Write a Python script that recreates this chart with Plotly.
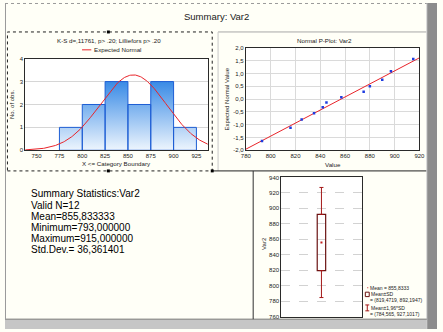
import numpy as np
import plotly.graph_objects as go

W, H = 443, 332

# Raw observations of Var2
var2_values = [793, 816, 825, 835, 842, 845, 857, 875, 880, 890, 897, 915]
# Expected normal scores for the sorted observations (normal probability plot)
expected_normal = [-1.64, -1.12, -0.80, -0.55, -0.32, -0.13, 0.07, 0.29, 0.50, 0.75, 1.09, 1.57]

# Histogram bins (upper category boundaries) and counts
bin_edges = [775, 800, 825, 850, 875, 900, 925]
bin_counts = [1, 2, 3, 2, 3, 1]

hist_ticks = [750, 775, 800, 825, 850, 875, 900, 925]
hist_yticks = [0, 1, 2, 3, 4]
pplot_xticks = [780, 800, 820, 840, 860, 880, 900, 920]
pplot_yticks = [-2.0, -1.5, -1.0, -0.5, 0.0, 0.5, 1.0, 1.5, 2.0]
box_yticks = [760, 780, 800, 820, 840, 860, 880, 900, 920, 940]

ks_caption = "K-S d=,11761, p> .20; Lilliefors p> .20"

vals = np.array(var2_values, dtype=float)
n = len(vals)
mean = vals.mean()
sd = vals.std(ddof=1)


def comma(v, digits):
    return f"{v:.{digits}f}".replace(".", ",")


def comma_g(v):
    s = f"{v:.4f}".rstrip("0").rstrip(".")
    return s.replace(".", ",")


def fx(x):
    return x / W


def fy(y):
    return 1 - y / H


FONT = "Liberation Sans, Arial, sans-serif"
fig = go.Figure()

# ---------- histogram with expected normal curve ----------
bx, by = [], []
for lo, hi, c in zip(bin_edges[:-1], bin_edges[1:], bin_counts):
    bx += [lo, lo, hi, hi, lo, None]
    by += [0, c, c, 0, 0, None]
fig.add_trace(go.Scatter(
    x=bx, y=by, mode="lines", fill="toself",
    line=dict(color="#1E5ED4", width=1),
    fillgradient=dict(type="vertical", start=0, stop=max(bin_counts),
                      colorscale=[[0, "#F2F8FE"], [1, "#3A8BE6"]]),
    xaxis="x", yaxis="y", showlegend=False, hoverinfo="skip"))

bw = bin_edges[1] - bin_edges[0]
xs = np.linspace(737.5, 937.5, 300)
ys = n * bw * np.exp(-0.5 * ((xs - mean) / sd) ** 2) / (sd * np.sqrt(2 * np.pi))
fig.add_trace(go.Scatter(x=xs, y=ys, mode="lines", line=dict(color="#E8242A", width=1),
                         xaxis="x", yaxis="y", showlegend=False, hoverinfo="skip"))

# ---------- normal probability plot ----------
slope, intercept = np.polyfit(vals, np.array(expected_normal), 1)
lx = np.array([780, 920], dtype=float)
fig.add_trace(go.Scatter(x=lx, y=slope * lx + intercept, mode="lines",
                         line=dict(color="#E8242A", width=1),
                         xaxis="x2", yaxis="y2", showlegend=False, hoverinfo="skip"))
fig.add_trace(go.Scatter(x=var2_values, y=expected_normal, mode="markers",
                         marker=dict(symbol="square", size=2.5, color="#1E3CE0"),
                         xaxis="x2", yaxis="y2", showlegend=False, hoverinfo="skip"))

# ---------- box plot: mean, mean +/- SD, mean +/- 1.96 SD ----------
lo_sd, hi_sd = mean - sd, mean + sd
lo_w, hi_w = mean - 1.96 * sd, mean + 1.96 * sd
fig.add_trace(go.Bar(x=[0], y=[hi_sd - lo_sd], base=[lo_sd], width=0.105,
                     marker=dict(color="rgba(0,0,0,0)", line=dict(color="#6A1212", width=1.2)),
                     xaxis="x3", yaxis="y3", showlegend=False, hoverinfo="skip"))
fig.add_trace(go.Scatter(x=[0, 0], y=[hi_sd, lo_sd], mode="markers",
                         marker=dict(size=1, opacity=0),
                         error_y=dict(type="data", symmetric=False,
                                      array=[hi_w - hi_sd, 0], arrayminus=[0, lo_sd - lo_w],
                                      color="#A31818", thickness=1, width=2),
                         xaxis="x3", yaxis="y3", showlegend=False, hoverinfo="skip"))
fig.add_trace(go.Scatter(x=[0], y=[mean], mode="markers",
                         marker=dict(symbol="square", size=2, color="#C42020"),
                         xaxis="x3", yaxis="y3", showlegend=False, hoverinfo="skip"))

tickfont = dict(family=FONT, size=6, color="#222222")
axis_common = dict(showline=True, mirror=True, linecolor="#2A2A2A", linewidth=1,
                   ticks="", zeroline=False, tickfont=tickfont, fixedrange=True)

fig.update_layout(
    width=W, height=H, margin=dict(l=0, r=0, t=0, b=0),
    paper_bgcolor="#FFFFF7", plot_bgcolor="#FFFFFF",
    font=dict(family=FONT, size=6, color="#1A1A1A"),
    barmode="overlay",
    xaxis=dict(domain=[fx(20.7), fx(208)], range=[737.5, 937.5], tickvals=hist_ticks,
               showgrid=False, anchor="y", **axis_common),
    yaxis=dict(domain=[fy(150), fy(56.7)], range=[0, 4], tickvals=hist_yticks,
               showgrid=True, gridcolor="#D6D6D6", gridwidth=1, anchor="x", **axis_common),
    xaxis2=dict(domain=[fx(247), fx(425)], range=[780, 920], tickvals=pplot_xticks,
                showgrid=True, gridcolor="#DADADA", anchor="y2", **axis_common),
    yaxis2=dict(domain=[fy(150), fy(45.7)], range=[-2, 2], tickvals=pplot_yticks,
                ticktext=[comma(v, 1) for v in pplot_yticks],
                showgrid=True, gridcolor="#DADADA", anchor="x2", **axis_common),
    xaxis3=dict(domain=[fx(283.3), fx(365.7)], range=[-0.5, 0.5], showticklabels=False,
                showgrid=False, anchor="y3", **axis_common),
    yaxis3=dict(domain=[fy(319.3), fy(177.7)], range=[760, 940], tickvals=box_yticks,
                showgrid=True, gridcolor="#D2D2D2", griddash="dash", anchor="x3", **axis_common),
)

ann = []


def text(x, y, s, size=6, xanchor="center", angle=0, color="#1A1A1A"):
    ann.append(dict(x=fx(x), y=fy(y), xref="paper", yref="paper", text=s, showarrow=False,
                    xanchor=xanchor, yanchor="middle", textangle=angle, borderpad=0,
                    font=dict(family=FONT, size=size, color=color)))


text(217, 13.5, "Summary: Var2", size=9.5)
text(107, 37.7, ks_caption, size=6.2)
text(90.5, 47.7, "Expected Normal", size=6.2, xanchor="left")
text(7, 103, "No. of obs.", size=6, angle=-90)
text(114, 163, "X &lt;= Category Boundary", size=6.2)
text(328, 37.7, "Normal P-Plot: Var2", size=6.2)
text(336, 164, "Value", size=6.2)
text(228, 98, "Expected Normal Value", size=6, angle=-90)
text(265, 245, "Var2", size=6, angle=-90)

stats_lines = [
    "Summary Statistics:Var2",
    f"Valid N={n}",
    f"Mean={comma(mean, 6)}",
    f"Minimum={comma(vals.min(), 6)}",
    f"Maximum={comma(vals.max(), 6)}",
    f"Std.Dev.= {comma(sd, 6)}",
]
for i, s in enumerate(stats_lines):
    text(25.5, 194.5 + i * 11.35, s, size=10, xanchor="left", color="#000000")

text(373.5, 290, f"Mean = {comma_g(mean)}", size=5, xanchor="left")
text(374.5, 296.7, "Mean±SD", size=5, xanchor="left")
text(373, 302.5, f"= ({comma_g(lo_sd)}, {comma_g(hi_sd)})", size=5, xanchor="left")
text(374.5, 310.7, "Mean±1,96*SD", size=5, xanchor="left")
text(373, 316.7, f"= ({comma_g(lo_w)}, {comma_g(hi_w)})", size=5, xanchor="left")

shapes = []


def rect(x0, y0, x1, y1, fill=None, line=None, width=1, dash=None):
    d = dict(type="rect", xref="paper", yref="paper", x0=fx(x0), x1=fx(x1), y0=fy(y1), y1=fy(y0),
             line=dict(color=line or "rgba(0,0,0,0)", width=width if line else 0), layer="above")
    if dash:
        d["line"]["dash"] = dash
    if fill:
        d["fillcolor"] = fill
    return d


def seg(x0, y0, x1, y1, color, width=1, dash=None):
    d = dict(type="line", xref="paper", yref="paper", x0=fx(x0), x1=fx(x1), y0=fy(y0), y1=fy(y1),
             line=dict(color=color, width=width), layer="above")
    if dash:
        d["line"]["dash"] = dash
    return d


# window chrome
shapes.append(rect(432.5, 0, 443, 332, fill="#8C8C8C"))
shapes.append(seg(432.5, 0, 432.5, 332, "#D8D8D8", 1))
shapes.append(rect(0, 322.5, 432.5, 332, fill="#C6C6C6"))
shapes.append(seg(0, 322, 432.5, 322, "#6E6E6E", 1))
shapes.append(seg(0, 0.5, 432.5, 0.5, "#9A9A9A", 1, "dot"))
shapes.append(seg(0.5, 0, 0.5, 322, "#9A9A9A", 1))
# panel borders
shapes.append(rect(2.5, 29.5, 212.5, 171, line="#202020", width=1, dash="dot"))
shapes.append(seg(218.5, 29.5, 432, 29.5, "#A8A8A8", 1))
shapes.append(seg(218.5, 29.5, 218.5, 171, "#C8C8C8", 1))
shapes.append(seg(212.5, 171, 432, 171, "#202020", 1))
shapes.append(seg(254.5, 171, 254.5, 322, "#303030", 1))
# selection handles
for hx, hy in [(106, 29.5), (106, 171), (212.5, 171)]:
    shapes.append(rect(hx - 1.5, hy - 1.5, hx + 1.5, hy + 1.5, fill="#000000"))
# histogram legend swatch
shapes.append(seg(79, 47.7, 88.5, 47.7, "#E8242A", 1))
# box-plot legend symbols
shapes.append(rect(371.5, 289.5, 372.5, 290.5, fill="#C42020"))
shapes.append(rect(369.5, 294.5, 373.5, 299, line="#6A1212", width=1))
shapes.append(seg(371.5, 307.5, 371.5, 313.5, "#A31818", 1))
shapes.append(seg(369.5, 307.5, 373.5, 307.5, "#A31818", 1))
shapes.append(seg(369.5, 313.5, 373.5, 313.5, "#A31818", 1))

fig.update_layout(annotations=ann, shapes=shapes)
fig.write_html("out.html")
